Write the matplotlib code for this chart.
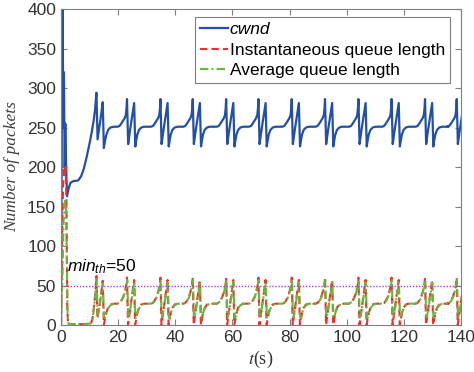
import numpy as np
import matplotlib
matplotlib.use("Agg")
import matplotlib.pyplot as plt

plt.rcParams["font.family"] = ["Liberation Sans", "DejaVu Sans"]
plt.rcParams["mathtext.fontset"] = "custom"
plt.rcParams["mathtext.it"] = "Liberation Sans:italic"
plt.rcParams["mathtext.rm"] = "Liberation Sans"

# start-up transient (slow start, then first oscillation)
start_t = [0, 0.5, 0.8, 1.0, 1.3, 1.5, 1.8, 2.1, 2.6, 3.3, 4.2, 6.0, 7.0, 8.0,
           9.0, 10.0, 10.8, 11.4, 11.9, 12.4, 12.8, 13.4, 14.0, 14.6, 15.0,
           15.3, 15.8, 16.5, 17.3, 18.5, 19.8]
start_cwnd = [0, 440, 250, 320, 200, 255, 200, 163, 172, 180, 182, 183, 188, 198,
              213, 230, 245, 258, 272, 294, 235, 250, 265, 282, 224,
              231, 240, 247, 250, 251, 251]

start_q_t = [0, 0.4, 0.7, 1.0, 1.3, 1.6, 1.9, 2.2, 2.5, 4.0, 8.0, 10.5, 11.0,
             11.5, 12.0, 12.4, 12.75, 13.3, 14.0, 14.6, 15.0, 15.3, 15.8, 16.5,
             17.3, 18.5, 19.8]
start_inst = [0, 120, 170, 200, 190, 200, 160, 20, 0, 1, 1, 2, 8,
              22, 40, 62, 8, 20, 38, 56, 0, 6, 15, 22,
              26, 27, 27]

start_a_t = [0, 0.5, 0.9, 1.3, 1.6, 1.9, 2.3, 2.7, 8.0, 10.5, 11.0, 11.5, 12.0,
             12.5, 12.85, 13.3, 14.0, 14.65, 15.05, 15.4, 15.8, 16.5, 17.3,
             18.5, 19.8]
start_avg = [0, 60, 130, 155, 160, 120, 15, 1, 1, 2, 7, 20, 38,
             58, 12, 20, 37, 53, 10, 9, 15, 21, 25,
             27, 27]

# one steady-state oscillation, offsets from its first peak
cyc_t = [-3.3, -2.6, -2.0, -1.3, -0.8, -0.4, -0.15, 0.0, 0.4, 1.0, 1.8, 2.5,
         2.9, 3.2, 3.6, 4.2, 5.0, 6.0, 8.0]
cyc_cwnd = [251, 252, 255, 259, 262, 266, 275, 286, 229, 245, 264, 281,
            226, 233, 241, 247, 250, 251, 251]

cyc_q_t = [-3.3, -2.6, -2.0, -1.3, -0.8, -0.4, -0.15, 0.0, 0.35, 0.5, 1.0, 1.8,
           2.5, 2.85, 3.1, 3.6, 4.2, 5.0, 6.0, 8.0]
cyc_inst = [27, 28, 31, 36, 42, 48, 53, 60, 0, 4, 18, 38,
            57, 0, 5, 15, 22, 26, 27, 27]

cyc_a_t = [-3.3, -2.0, -1.3, -0.8, -0.4, -0.1, 0.1, 0.4, 0.6, 1.0, 1.8, 2.55,
           2.95, 3.2, 3.6, 4.2, 5.0, 6.0, 8.0]
cyc_avg = [27, 30, 35, 41, 47, 53, 57, 12, 10, 17, 36, 54,
           10, 9, 15, 21, 25, 27, 27]

peak_times = [23.1, 34.8, 46.1, 57.8, 69.1, 80.75, 92.4, 104.1, 115.7, 127.4, 138.5]

min_th = 50


def build(t0, y0, ct, cy):
    t = list(t0)
    y = list(y0)
    for p in peak_times:
        t += [p + dt for dt in ct]
        y += cy
    return np.array(t), np.array(y)


t_cwnd, cwnd = build(start_t, start_cwnd, cyc_t, cyc_cwnd)
t_inst, inst = build(start_q_t, start_inst, cyc_q_t, cyc_inst)
t_avg, avg = build(start_a_t, start_avg, cyc_a_t, cyc_avg)

fig = plt.figure(figsize=(4.74, 3.72), dpi=100)
ax = fig.add_axes([0.1287, 0.1263, 0.8439, 0.8495])

ax.plot(t_cwnd, cwnd, color="#2350a6", lw=1.6, label="cwnd")
ax.plot(t_inst, inst, color="#e8302c", lw=1.5, ls=(0, (3.5, 2)),
        label="Instantaneous queue length")
ax.plot(t_avg, avg, color="#6db33f", lw=1.5, ls=(0, (4, 1.5, 1, 1.5)),
        label="Average queue length")
ax.axhline(min_th, color="#b23ccc", lw=1.0, ls=(0, (1, 1.2)))
ax.text(2.1, 68, r"$\mathit{min}_{\mathit{th}}$=50", fontsize=12.5, color="black",
        va="baseline")

ax.set_xlim(0, 140)
ax.set_ylim(0, 400)
ax.set_xticks(np.arange(0, 141, 20))
ax.set_yticks(np.arange(0, 401, 50))
ax.tick_params(direction="in", length=4, width=0.8, colors="#808080",
               labelcolor="#333333", labelsize=12.5, top=True, right=True)
for s in ax.spines.values():
    s.set_color("#808080")
    s.set_linewidth(0.8)

ax.set_ylabel("Number of packets", fontfamily="Liberation Serif", style="italic",
              fontsize=12.5, color="#404040", labelpad=5)
ax.set_xlabel(r"$t$(s)", fontfamily="Liberation Serif", math_fontfamily="stix",
              fontsize=13, color="#333333", labelpad=3)

leg = ax.legend(loc="upper right", bbox_to_anchor=(0.9725, 0.975), borderaxespad=0,
                fontsize=12.5, frameon=True, fancybox=False, framealpha=1,
                edgecolor="#808080", handlelength=1.6, handletextpad=0.1,
                labelspacing=0.3, borderpad=0.3)
leg.get_frame().set_linewidth(0.8)
leg.get_texts()[0].set_style("italic")

fig.savefig("out.png", dpi=100)
